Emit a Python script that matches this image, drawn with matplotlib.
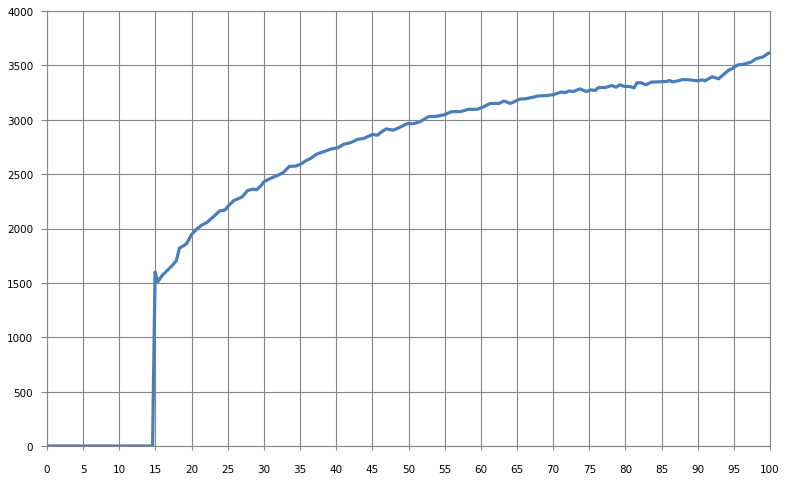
import matplotlib
matplotlib.use("Agg")
from matplotlib import pyplot as plt

# values
x_vals = [0, 5, 10, 14.6, 14.95, 15.3, 15.9, 16.6, 17.3, 17.9, 18.3, 18.9, 19.3, 20.0,
          20.7, 21.4, 22.1, 22.8, 23.5, 23.9, 24.6, 25.1, 25.8, 26.5, 27.0, 27.7,
          28.4, 29.0, 29.6, 30.0, 30.7, 31.4, 32.1, 32.8, 33.5, 34.4, 35.1, 35.8,
          36.4, 37.3, 38.2, 39.2, 40.3, 41.0, 42.0, 42.9, 43.8, 45.0, 45.7, 46.1,
          46.9, 47.9, 48.9, 49.8, 50.7, 51.6, 52.8, 53.7, 54.9, 56.0, 57.2, 58.3,
          59.5, 60.4, 61.3, 62.5, 63.2, 64.1, 65.4, 66.3, 67.2, 67.9, 69.1, 70.0,
          71.2, 71.6, 72.2, 72.8, 73.7, 74.6, 75.2, 75.8, 76.3, 77.2, 78.1, 78.7,
          79.2, 79.9, 80.6, 81.2, 81.6, 82.2, 82.8, 83.6, 84.8, 85.7, 86.1, 86.5,
          87.3, 87.9, 88.9, 89.9, 90.6, 91.0, 92.0, 92.9, 93.6, 94.3, 94.6, 95.5,
          96.2, 96.8, 97.4, 98.1, 99.0, 99.7, 100]
y_vals = [0, 0, 0, 0, 1600, 1508, 1566, 1612, 1658, 1704, 1818, 1842, 1860, 1945,
          1994, 2031, 2055, 2095, 2138, 2163, 2169, 2209, 2255, 2276, 2291, 2347,
          2362, 2356, 2393, 2429, 2454, 2475, 2494, 2521, 2571, 2574, 2592, 2623,
          2642, 2684, 2705, 2729, 2744, 2774, 2789, 2819, 2828, 2864, 2858, 2880,
          2916, 2904, 2934, 2964, 2964, 2982, 3030, 3030, 3045, 3075, 3075, 3096,
          3096, 3120, 3150, 3150, 3172, 3150, 3190, 3194, 3207, 3219, 3222, 3231,
          3256, 3247, 3265, 3259, 3284, 3259, 3275, 3269, 3296, 3296, 3315, 3299,
          3321, 3306, 3306, 3293, 3340, 3340, 3321, 3346, 3349, 3352, 3361, 3349,
          3358, 3370, 3367, 3358, 3367, 3358, 3395, 3377, 3417, 3457, 3463, 3503,
          3509, 3519, 3531, 3562, 3577, 3608, 3617]

x_ticks = list(range(0, 101, 5))
y_ticks = list(range(0, 4001, 500))

grey = "#868686"
fig = plt.figure(figsize=(7.88, 4.81), dpi=100)
ax = fig.add_axes([47 / 788, 34 / 481, 723 / 788, 435 / 481])

ax.plot(x_vals, y_vals, color="#4A7EBB", linewidth=2.3, solid_joinstyle="round", zorder=3)

ax.set_xlim(0, 100)
ax.set_ylim(0, 4000)
ax.set_xticks(x_ticks)
ax.set_yticks(y_ticks)
ax.grid(True, color=grey, linewidth=0.8)
ax.set_axisbelow(True)
for s in ax.spines.values():
    s.set_color(grey)
    s.set_linewidth(0.8)
ax.tick_params(axis="y", direction="out", length=4, width=0.8, color=grey, pad=6, labelsize=7.5)
ax.tick_params(axis="x", direction="out", length=3, width=0.8, color=grey, pad=10, labelsize=7.5)

fig.savefig("out.png", dpi=100)
